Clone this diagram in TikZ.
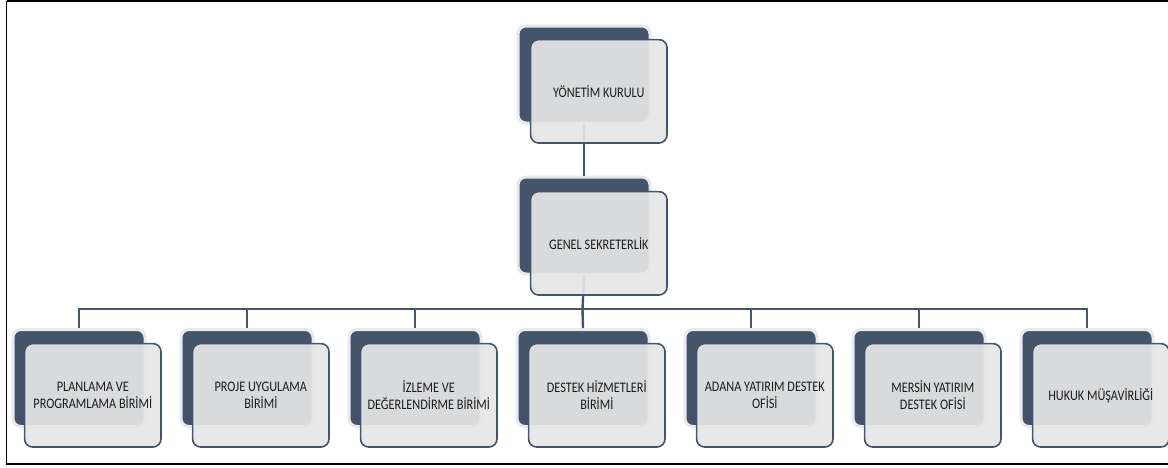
\documentclass[tikz,border=0pt]{standalone}
\usepackage{fontspec}
\setmainfont{Carlito}[FakeStretch=0.84]
\definecolor{navy}{HTML}{44546A}
\definecolor{halo}{HTML}{E9E9E9}
\definecolor{frontfill}{HTML}{E6E6E6}
\definecolor{txt}{HTML}{1C1C1C}
\tikzset{
  backbox/.style={draw=halo, line width=3pt, fill=navy, rounded corners=8pt,
    anchor=north west, minimum width=132pt, minimum height=97pt, inner sep=0pt},
  frontbox/.style={draw=navy, line width=1.6pt, fill=frontfill, fill opacity=0.92,
    text opacity=1, rounded corners=8pt, anchor=north west, minimum width=136.4pt,
    minimum height=103.4pt, inner sep=2pt, align=center, text=txt,
    font=\fontsize{14.6}{17}\selectfont},
  link/.style={draw=navy, line width=2.4pt}
}
\begin{document}
\begin{tikzpicture}[x=1pt,y=-1pt]
\useasboundingbox (0,0) rectangle (1168,467);
% outer frame
\draw[black, line width=1.6pt] (6.5,1) -- (1180,1);
\draw[black, line width=1.6pt] (6.5,1) -- (6.5,464) -- (1180,464);
% back boxes
\node[backbox] (yk) at (516.5,24.5) {};
\node[backbox] (gs) at (516.5,175.5) {};
\node[backbox] (b1) at (11.5,328) {};
\node[backbox] (b2) at (179.5,328) {};
\node[backbox] (b3) at (347.5,328) {};
\node[backbox] (b4) at (515.5,328) {};
\node[backbox] (b5) at (683.5,328) {};
\node[backbox] (b6) at (851.5,328) {};
\node[backbox] (b7) at (1019.5,328) {};
% connectors
\coordinate (hub) at (582.5,309);
\draw[link] (yk.south) -- (gs.north);
\draw[link] (gs.south) -- (hub);
\draw[link] (hub) -| (b1.north);
\draw[link] (hub) -| (b2.north);
\draw[link] (hub) -| (b3.north);
\draw[link] (hub) -- (b4.north);
\draw[link] (hub) -| (b5.north);
\draw[link] (hub) -| (b6.north);
\draw[link] (hub) -| (b7.north);
% front boxes
\node[frontbox] (fyk) at (529.8,38.8) {YÖNETİM KURULU};
\node[frontbox] (fgs) at (529.8,190.8) {GENEL SEKRETERLİK};
\node[frontbox] (f1) at (23.8,342.8) {PLANLAMA VE\\PROGRAMLAMA BİRİMİ};
\node[frontbox] (f2) at (191.8,342.8) {PROJE UYGULAMA\\BİRİMİ};
\node[frontbox] (f3) at (359.8,342.8) {İZLEME VE\\DEĞERLENDİRME BİRİMİ};
\node[frontbox] (f4) at (527.8,342.8) {DESTEK HİZMETLERİ\\BİRİMİ};
\node[frontbox] (f5) at (695.8,342.8) {ADANA YATIRIM DESTEK\\OFİSİ};
\node[frontbox] (f6) at (863.8,342.8) {MERSİN YATIRIM\\DESTEK OFİSİ};
\node[frontbox] (f7) at (1031.8,342.8) {HUKUK MÜŞAVİRLİĞİ};
\end{tikzpicture}
\end{document}
